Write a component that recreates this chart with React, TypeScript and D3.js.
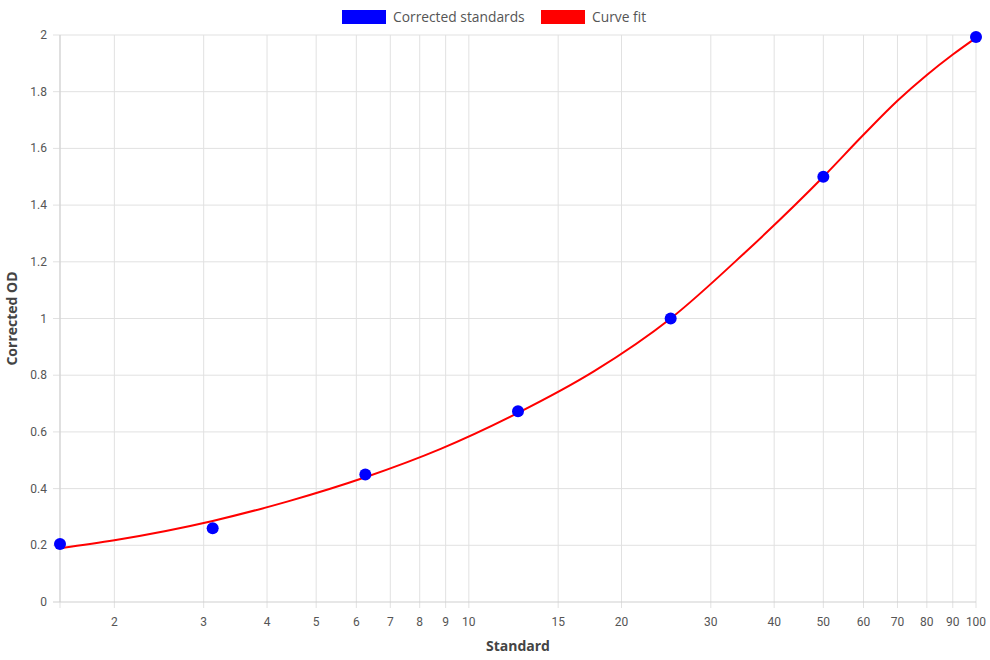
import React, { useEffect, useRef } from 'react';
import * as d3 from 'd3';

// standards (x) and measured corrected OD
const standards = [1.5625, 3.125, 6.25, 12.5, 25, 50, 100];
const correctedOD = [0.205, 0.26, 0.45, 0.673, 1.0, 1.5, 1.993];

// curve fit
const fitX = [1.5625, 2, 3.125, 4.4, 6.25, 8.8, 12.5, 17.7, 25, 35, 50, 60, 70, 80, 90, 100];
const fitY = [0.19, 0.218, 0.286, 0.355, 0.44, 0.54, 0.667, 0.815, 1.0, 1.232, 1.5, 1.648, 1.768, 1.859, 1.931, 1.99];

const xTicks = [2, 3, 4, 5, 6, 7, 8, 9, 10, 15, 20, 30, 40, 50, 60, 70, 80, 90, 100];
const yTicks = [0, 0.2, 0.4, 0.6, 0.8, 1, 1.2, 1.4, 1.6, 1.8, 2];

const W = 990;
const H = 660;
const margin = { top: 35, right: 14, bottom: 58, left: 60 };

const App: React.FC = () => {
  const svgRef = useRef<SVGSVGElement>(null);

  useEffect(() => {
    if (!svgRef.current) return;
    const svg = d3.select(svgRef.current);
    svg.selectAll('*').remove();

    const x = d3.scaleLog().domain([1.5625, 100]).range([margin.left, W - margin.right]);
    const y = d3.scaleLinear().domain([0, 2]).range([H - margin.bottom, margin.top]);
    const tickFont = 'Roboto, "Liberation Sans", Arial, sans-serif';
    const titleFont = '"Open Sans", Lato, sans-serif';

    // grid
    const grid = svg.append('g');
    grid.selectAll('line.v')
      .data([1.5625, ...xTicks])
      .enter()
      .append('line')
      .attr('x1', d => x(d)).attr('x2', d => x(d))
      .attr('y1', margin.top).attr('y2', H - margin.bottom + 6)
      .attr('stroke', '#e1e1e1').attr('stroke-width', 1);
    grid.selectAll('line.h')
      .data(yTicks)
      .enter()
      .append('line')
      .attr('x1', margin.left - 7).attr('x2', W - margin.right)
      .attr('y1', d => y(d)).attr('y2', d => y(d))
      .attr('stroke', d => (d === 0 ? '#cfcfcf' : '#e1e1e1')).attr('stroke-width', 1);
    grid.append('line')
      .attr('x1', margin.left).attr('x2', margin.left)
      .attr('y1', margin.top).attr('y2', H - margin.bottom)
      .attr('stroke', '#cfcfcf');

    // tick labels
    svg.append('g').selectAll('text')
      .data(xTicks)
      .enter()
      .append('text')
      .attr('x', d => x(d)).attr('y', H - margin.bottom + 24)
      .attr('text-anchor', 'middle')
      .attr('font-family', tickFont).attr('font-size', 12).attr('fill', '#555')
      .text(d => String(d));
    svg.append('g').selectAll('text')
      .data(yTicks)
      .enter()
      .append('text')
      .attr('x', margin.left - 13).attr('y', d => y(d) + 4)
      .attr('text-anchor', 'end')
      .attr('font-family', tickFont).attr('font-size', 12).attr('fill', '#555')
      .text(d => String(d));

    // axis titles
    svg.append('text')
      .attr('x', (margin.left + W - margin.right) / 2).attr('y', H - 9)
      .attr('text-anchor', 'middle')
      .attr('font-family', titleFont).attr('font-size', 14).attr('font-weight', 'bold').attr('fill', '#444')
      .text('Standard');
    svg.append('text')
      .attr('transform', `translate(17,${(margin.top + H - margin.bottom) / 2}) rotate(-90)`)
      .attr('text-anchor', 'middle')
      .attr('font-family', titleFont).attr('font-size', 14).attr('font-weight', 'bold').attr('fill', '#444')
      .text('Corrected OD');

    // curve fit
    const line = d3.line<number>()
      .x((_, i) => x(fitX[i]))
      .y(d => y(d))
      .curve(d3.curveMonotoneX);
    svg.append('path')
      .datum(fitY)
      .attr('d', line)
      .attr('fill', 'none')
      .attr('stroke', 'red')
      .attr('stroke-width', 2);

    // points
    svg.append('g').selectAll('circle')
      .data(correctedOD)
      .enter()
      .append('circle')
      .attr('cx', (_, i) => x(standards[i]))
      .attr('cy', d => y(d))
      .attr('r', 6)
      .attr('fill', 'blue');

    // legend
    const legend = svg.append('g').attr('font-family', titleFont).attr('font-size', 13.8);
    const items = [
      { label: 'Corrected standards', color: 'blue', x0: 342 },
      { label: 'Curve fit', color: 'red', x0: 541 },
    ];
    items.forEach(it => {
      legend.append('rect')
        .attr('x', it.x0).attr('y', 10).attr('width', 44).attr('height', 14)
        .attr('fill', it.color);
      legend.append('text')
        .attr('x', it.x0 + 51).attr('y', 22)
        .attr('fill', '#555')
        .text(it.label);
    });
  }, []);

  return <svg ref={svgRef} width={W} height={H} style={{ position: 'absolute', left: 0, top: 0 }} />;
};

export default App;
